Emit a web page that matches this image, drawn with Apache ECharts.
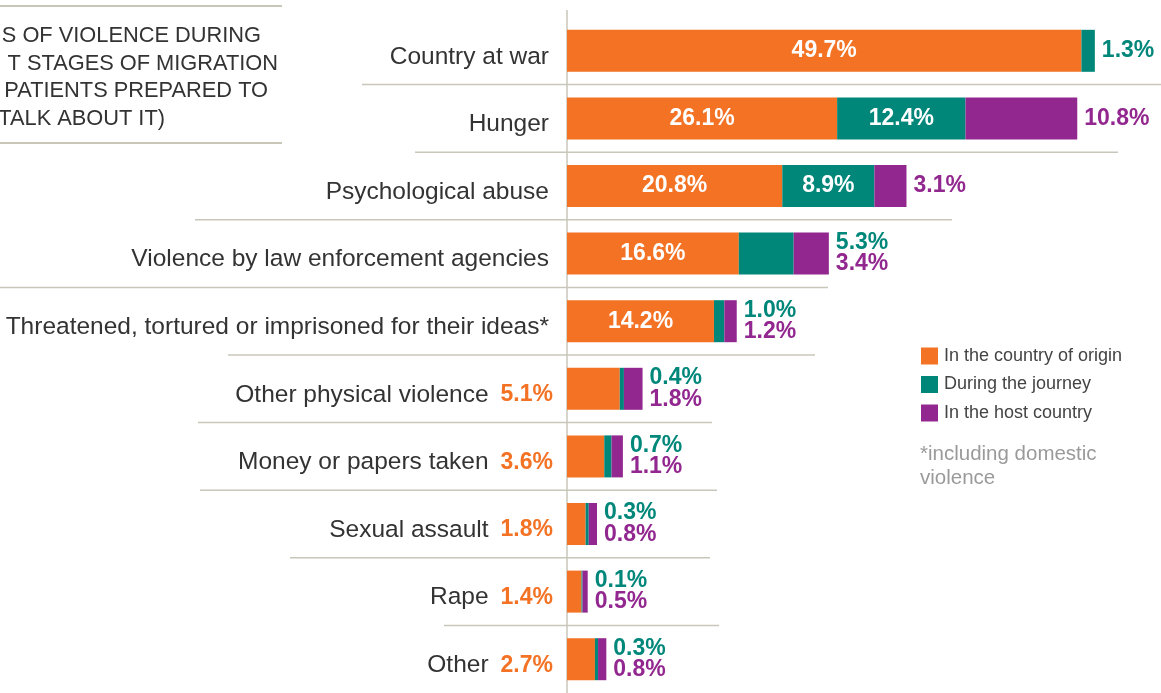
<!DOCTYPE html>
<html><head><meta charset="utf-8">
<script src="https://cdn.jsdelivr.net/npm/echarts@6/dist/echarts.min.js"></script>
<style>html,body{margin:0;padding:0;background:#fff}#c{width:1161px;height:693px}</style>
</head><body><div id="c"></div>
<script>
// ---------- data ----------
const categories = ['Country at war','Hunger','Psychological abuse','Violence by law enforcement agencies','Threatened, tortured or imprisoned for their ideas*','Other physical violence','Money or papers taken','Sexual assault','Rape','Other'];
const origin  = [49.7, 26.1, 20.8, 16.6, 14.2, 5.1, 3.6, 1.8, 1.4, 2.7];
const journey = [1.3, 12.4, 8.9, 5.3, 1.0, 0.4, 0.7, 0.3, 0.1, 0.3];
const host    = [0, 10.8, 3.1, 3.4, 1.2, 1.8, 1.1, 0.8, 0.5, 0.8];
const seriesNames = ['In the country of origin','During the journey','In the host country'];
const titleLines = ['S OF VIOLENCE DURING','T STAGES OF MIGRATION','PATIENTS PREPARED TO','TALK ABOUT IT)'];
const footnote = ['*including domestic','violence'];

// ---------- styling / layout ----------
const COLORS = ['#F37224', '#00877A', '#92278F'];
const FONT = '"Liberation Sans", Arial, Helvetica, sans-serif';
const RULE = '#C9C6BA';
const sepExtents = [[362,1161],[415,1118],[195,952],[-5,828],[228,815],[198,712],[200,717],[290,710],[444,719]];
const titleRight = [261, 278, 268, 165];

const fmt = v => v.toFixed(1) + '%';
const originInside = i => origin[i] >= 10;
const journeyInside = i => journey[i] >= 8;
const totals = categories.map((c, i) => origin[i] + journey[i] + host[i]);

const chart = echarts.init(document.getElementById('c'), null, {renderer: 'canvas'});

function renderOutside(params, api) {
  const i = params.dataIndex;
  const end = api.coord([totals[i], i]);
  const items = [];
  if (!journeyInside(i) && journey[i] > 0) items.push({t: fmt(journey[i]), c: COLORS[1]});
  if (host[i] > 0) items.push({t: fmt(host[i]), c: COLORS[2]});
  const offs = items.length === 2 ? [-11, 10.5] : [0];
  return {
    type: 'group',
    children: items.map((it, k) => ({
      type: 'text', x: end[0] + 7, y: end[1] + offs[k],
      style: {text: it.t, fill: it.c, font: 'bold 23px ' + FONT, align: 'left', verticalAlign: 'middle'}
    }))
  };
}

function renderSeparators(params, api) {
  const i = params.dataIndex;
  const children = [];
  if (i < categories.length - 1) {
    const y = (api.coord([0, i])[1] + api.coord([0, i + 1])[1]) / 2;
    const ex = sepExtents[i];
    children.push({type: 'line', shape: {x1: ex[0], y1: y, x2: ex[1], y2: y}, style: {stroke: RULE, lineWidth: 1.5}});
  }
  if (i === 0) {
    const x0 = api.coord([0, 0])[0];
    const cs = params.coordSys;
    children.push({type: 'line', shape: {x1: x0, y1: cs.y - 7, x2: x0, y2: cs.y + cs.height}, style: {stroke: RULE, lineWidth: 1.5}});
  }
  return {type: 'group', children};
}

const barLabel = (which) => ({
  show: true, position: 'inside', color: '#fff', fontWeight: 'bold', fontSize: 23, fontFamily: FONT,
  formatter: p => {
    const i = p.dataIndex;
    if (which === 0 && originInside(i)) return fmt(origin[i]);
    if (which === 1 && journeyInside(i)) return fmt(journey[i]);
    return '';
  }
});

const titleGraphics = titleLines.map((t, k) => ({
  type: 'text', x: titleRight[k], y: 36 + k * 27.5,
  style: {text: t, fill: '#333', font: '21.8px ' + FONT, align: 'right', verticalAlign: 'middle'}
}));

chart.setOption({
  animation: false,
  backgroundColor: '#fff',
  grid: {left: 567, top: 17, width: 517.5, height: 680},
  xAxis: {type: 'value', min: 0, max: 50, show: false},
  yAxis: {
    type: 'category', data: categories, inverse: true,
    axisTick: {show: false},
    axisLine: {show: false},
    axisLabel: {
      margin: 14,
      formatter: (v, i) => originInside(i) ? '{c|' + v + '}' : '{c|' + v + '}{o|' + fmt(origin[i]) + '}',
      rich: {
        c: {fontSize: 24.5, color: '#333', fontFamily: FONT, padding: [12, 4, 0, 0]},
        o: {fontSize: 23, fontWeight: 'bold', color: COLORS[0], fontFamily: FONT, padding: [12, 0, 0, 8]}
      }
    }
  },
  legend: {
    data: seriesNames, orient: 'vertical', left: 921, top: 347, padding: 0,
    icon: 'rect', itemWidth: 17, itemHeight: 17, itemGap: 10.5,
    textStyle: {fontSize: 18, color: '#444', fontFamily: FONT, padding: [0, 0, 0, 1]},
    selectedMode: false
  },
  graphic: [
    {type: 'line', shape: {x1: 0, y1: 6, x2: 282, y2: 6}, style: {stroke: RULE, lineWidth: 2}},
    {type: 'line', shape: {x1: 0, y1: 143, x2: 282, y2: 143}, style: {stroke: RULE, lineWidth: 2}},
    ...titleGraphics,
    ...footnote.map((t, k) => ({
      type: 'text', x: 920, y: 454 + k * 24,
      style: {text: t, fill: '#9A9A9A', font: '20.5px ' + FONT, align: 'left', verticalAlign: 'middle'}
    }))
  ],
  series: [
    {type: 'custom', name: 'sep', silent: true, z: 1, renderItem: renderSeparators, clip: false,
     data: categories.map((c, i) => [0, i]), encode: {x: 0, y: 1}},
    {type: 'bar', name: seriesNames[0], stack: 't', barWidth: 42, clip: false, data: origin, itemStyle: {color: COLORS[0]}, label: barLabel(0), z: 3},
    {type: 'bar', name: seriesNames[1], stack: 't', barWidth: 42, clip: false, data: journey, itemStyle: {color: COLORS[1]}, label: barLabel(1), z: 3},
    {type: 'bar', name: seriesNames[2], stack: 't', barWidth: 42, clip: false, data: host, itemStyle: {color: COLORS[2]}, label: barLabel(2), z: 3},
    {type: 'custom', name: 'outside', silent: true, z: 4, renderItem: renderOutside, clip: false,
     data: categories.map((c, i) => [totals[i], i]), encode: {x: 0, y: 1}}
  ]
});
</script>
</body></html>
